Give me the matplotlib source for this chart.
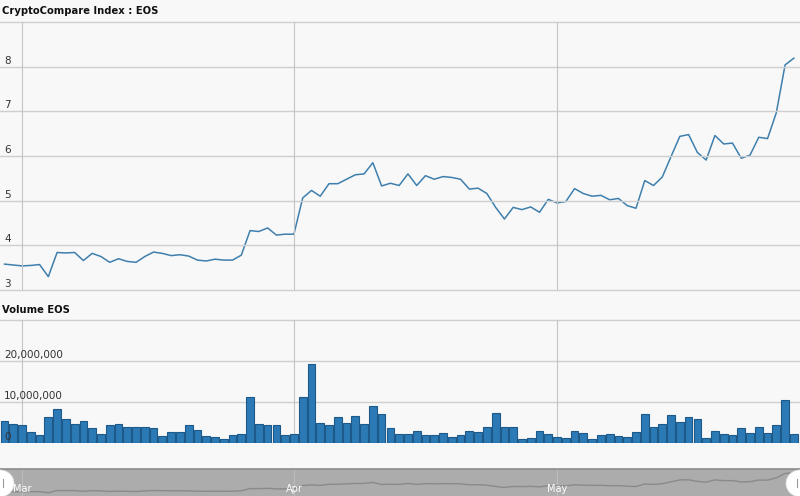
import matplotlib
matplotlib.use("Agg")
import matplotlib.pyplot as plt
import matplotlib.dates as mdates
from matplotlib.patches import Ellipse
from datetime import datetime, timedelta

# daily EOS data, 27 Feb .. 28 May
start = datetime(2018, 2, 27)
price = [3.58, 3.56, 3.54, 3.55, 3.57, 3.30, 3.84, 3.83, 3.84, 3.66,
         3.82, 3.75, 3.62, 3.70, 3.64, 3.62, 3.75, 3.85, 3.82, 3.77,
         3.79, 3.76, 3.67, 3.65, 3.69, 3.67, 3.67, 3.78, 4.33, 4.31,
         4.39, 4.23, 4.25, 4.25, 5.06, 5.23, 5.10, 5.38, 5.38, 5.48,
         5.58, 5.60, 5.85, 5.33, 5.39, 5.34, 5.60, 5.34, 5.56, 5.48,
         5.54, 5.52, 5.48, 5.26, 5.28, 5.16, 4.85, 4.59, 4.85, 4.80,
         4.86, 4.74, 5.03, 4.95, 4.98, 5.27, 5.16, 5.10, 5.12, 5.02,
         5.05, 4.89, 4.83, 5.45, 5.34, 5.53, 5.99, 6.44, 6.48, 6.08,
         5.91, 6.46, 6.27, 6.29, 5.95, 6.02, 6.42, 6.39, 6.97, 8.04,
         8.19]
volume_m = [5.4, 4.7, 4.3, 2.8, 1.9, 6.3, 8.4, 5.9, 4.7, 5.4,
            3.7, 2.1, 4.3, 4.7, 3.8, 3.8, 4.0, 3.7, 1.6, 2.8,
            2.8, 4.5, 3.2, 1.6, 1.4, 1.0, 1.9, 2.3, 11.3, 4.7,
            4.5, 4.5, 1.9, 2.1, 11.1, 19.3, 4.9, 4.3, 6.3, 4.9,
            6.6, 4.7, 9.1, 7.1, 3.7, 2.3, 2.3, 3.0, 1.9, 1.9,
            2.5, 1.4, 1.9, 3.0, 2.8, 3.8, 7.4, 3.8, 3.8, 1.0,
            1.2, 2.9, 2.1, 1.5, 1.2, 3.0, 2.5, 1.0, 1.9, 2.1,
            1.6, 1.5, 2.8, 7.1, 4.0, 4.7, 6.9, 5.2, 6.3, 5.9,
            1.2, 2.9, 2.3, 1.9, 3.7, 2.5, 3.8, 2.5, 4.5, 10.6,
            2.3]
dates = [start + timedelta(days=i) for i in range(len(price))]
volume = [v * 1e6 for v in volume_m]
months = [datetime(2018, 3, 1), datetime(2018, 4, 1), datetime(2018, 5, 1)]
month_labels = ["Mar", "Apr", "May"]

bg = "#f8f8f8"
grid_c = "#cfcfcf"
vgrid_c = "#c4c4c4"
line_c = "#3f7fad"
bar_c = "#2b79b5"
bar_edge = "#1d5a8a"

x0 = mdates.date2num(months[0]) - 2.51
x1 = mdates.date2num(months[0]) + 88.7

fig = plt.figure(figsize=(8, 4.96), dpi=100, facecolor=bg)

# price panel
ax = fig.add_axes([0, 0.4153, 1, 0.5403], facecolor=bg)
ax.plot(dates, price, color=line_c, lw=1.1)
ax.set_ylim(3, 9)
ax.set_xlim(x0, x1)
for v in range(3, 10):
    ax.axhline(v, color=grid_c, lw=1, clip_on=False)
for m in months:
    ax.axvline(m, color=vgrid_c, lw=0.8)
for v in range(3, 9):
    ax.text(0.005, v + 0.02, str(v), transform=ax.get_yaxis_transform(),
            ha="left", va="bottom", fontsize=7.5, color="#333333")
ax.axis("off")
fig.text(0.002, 0.978, "CryptoCompare Index : EOS", fontsize=7.2, fontweight="bold",
         ha="left", va="center", color="#111111")

# volume panel
axv = fig.add_axes([0, 0.1069, 1, 0.2479], facecolor=bg)
axv.set_ylim(0, 30e6)
axv.set_xlim(x0, x1)
for v in [10e6, 20e6, 30e6]:
    axv.axhline(v, color=grid_c, lw=1, clip_on=False)
for m in months:
    axv.axvline(m, color=vgrid_c, lw=0.8)
axv.bar(dates, volume, width=0.88, color=bar_c, edgecolor=bar_edge, linewidth=0.8, zorder=3)
for v, lab in [(0, "0"), (10e6, "10,000,000"), (20e6, "20,000,000")]:
    axv.text(0.005, v + 0.2e6, lab, transform=axv.get_yaxis_transform(),
             ha="left", va="bottom", fontsize=7.5, color="#333333", zorder=4)
axv.axis("off")
fig.text(0.002, 0.375, "Volume EOS", fontsize=7.2, fontweight="bold",
         ha="left", va="center", color="#111111")

# navigator
axn = fig.add_axes([0, 0, 1, 0.055], facecolor="#acacac")
axn.set_xlim(x0, x1)
axn.set_ylim(2.5, 9.2)
for m in months:
    axn.axvline(m, color="#bdbdbd", lw=0.8)
axn.plot(dates, price, color="#8a8a8a", lw=1.0)
for m, lab in zip(months, month_labels):
    axn.text(m, 4.3, lab, ha="center", va="center", fontsize=7, color="white")
axn.axhline(9.2, color="#8c8c8c", lw=1.2, clip_on=False)
for x in [x0, x1]:
    axn.add_patch(Ellipse((x, 5.6), 3.2, 6.6, facecolor="white", edgecolor="#dddddd",
                          lw=0.5, zorder=5))
axn.plot([x0 + 0.35, x0 + 0.35], [4.6, 6.6], color="#999999", lw=0.8, zorder=6)
axn.plot([x1 - 0.35, x1 - 0.35], [4.6, 6.6], color="#999999", lw=0.8, zorder=6)
for s in axn.spines.values():
    s.set_visible(False)
axn.set_xticks([])
axn.set_yticks([])

fig.savefig("out.png", dpi=100, facecolor=bg)
